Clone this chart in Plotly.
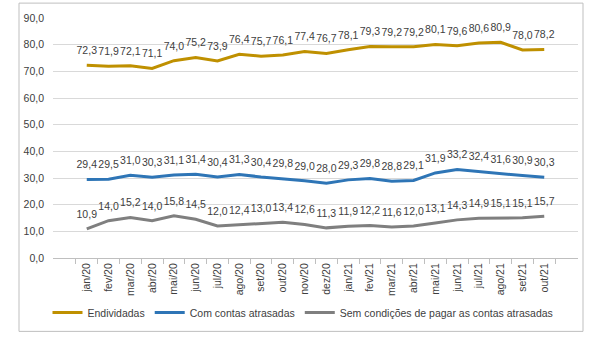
import plotly.graph_objects as go

months = ["jan/20","fev/20","mar/20","abr/20","mai/20","jun/20","jul/20","ago/20","set/20","out/20","nov/20","dez/20",
          "jan/21","fev/21","mar/21","abr/21","mai/21","jun/21","jul/21","ago/21","set/21","out/21"]
endividadas = [72.3,71.9,72.1,71.1,74.0,75.2,73.9,76.4,75.7,76.1,77.4,76.7,78.1,79.3,79.2,79.2,80.1,79.6,80.6,80.9,78.0,78.2]
atrasadas = [29.4,29.5,31.0,30.3,31.1,31.4,30.4,31.3,30.4,29.8,29.0,28.0,29.3,29.8,28.8,29.1,31.9,33.2,32.4,31.6,30.9,30.3]
sem_condicoes = [10.9,14.0,15.2,14.0,15.8,14.5,12.0,12.4,13.0,13.4,12.6,11.3,11.9,12.2,11.6,12.0,13.1,14.3,14.9,15.1,15.1,15.7]

series = [
    ("Endividadas", endividadas, "#BF9000"),
    ("Com contas atrasadas", atrasadas, "#2E75B6"),
    ("Sem condições de pagar as contas atrasadas", sem_condicoes, "#7F7F7F"),
]

FONT = "Liberation Sans"
FS = 10.5
fig = go.Figure()
for name, vals, col in series:
    fig.add_trace(go.Scatter(
        x=months, y=vals, name=name, mode="lines+markers+text",
        line=dict(color=col, width=3),
        marker=dict(size=12, color="rgba(0,0,0,0)"),
        text=[f"{v:.1f}".replace(".", ",") for v in vals],
        textposition="top center",
        textfont=dict(family=FONT, size=FS, color="#404040"),
        cliponaxis=False,
    ))

W, H = 604, 340
L, R, T, B = 53, 26, 16, 82
pw, ph = W - L - R, H - T - B
def px(x): return (x - L) / pw
def py(y): return (H - B - y) / ph

fig.update_layout(
    width=W, height=H,
    margin=dict(l=L, r=R, t=T, b=B),
    paper_bgcolor="white", plot_bgcolor="white",
    separators=",.",
    font=dict(family=FONT, size=FS, color="#404040"),
    showlegend=True,
    legend=dict(orientation="h", x=px(303), xanchor="center", y=py(313), yanchor="middle",
                font=dict(family=FONT, size=FS, color="#404040"), itemwidth=30,
                tracegroupgap=0),
    xaxis=dict(type="category", showgrid=False, showline=True, linecolor="#BFBFBF", linewidth=1,
               ticks="outside", tickson="boundaries", ticklen=5, tickcolor="#BFBFBF",
               tickangle=-90, tickfont=dict(family=FONT, size=FS, color="#404040")),
    yaxis=dict(range=[0, 90], dtick=10, tickformat=".1f", showgrid=True, gridcolor="#D9D9D9",
               gridwidth=1, zeroline=False, showline=False, ticks="", ticklabelstandoff=8,
               tickfont=dict(family=FONT, size=FS, color="#404040")),
)
fig.add_shape(type="rect", xref="paper", yref="paper",
              x0=px(19), x1=px(583), y0=py(332), y1=py(1),
              line=dict(color="#BFBFBF", width=1), fillcolor="rgba(0,0,0,0)", layer="above")

fig.write_html("out.html")
